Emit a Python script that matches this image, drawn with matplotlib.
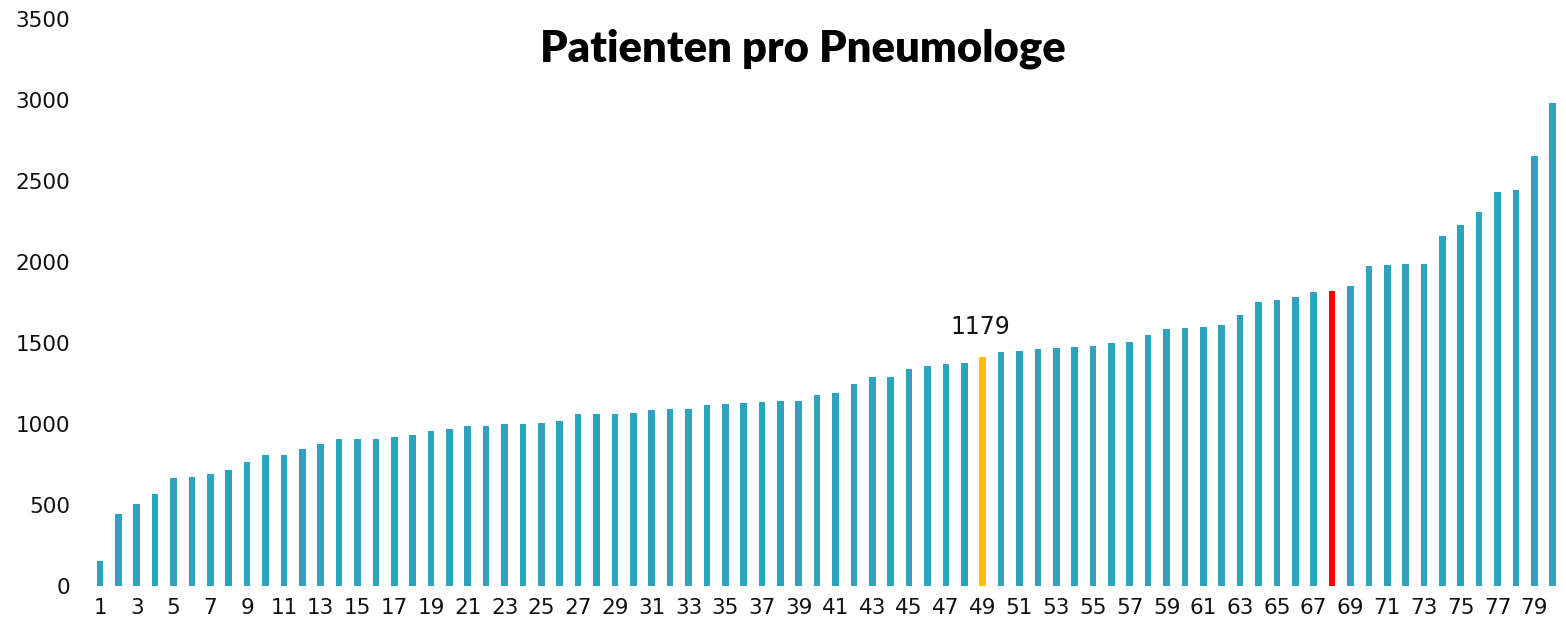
import matplotlib
matplotlib.use("Agg")
import matplotlib.pyplot as plt
import numpy as np

# ---- data ----
ranks = list(range(1, 81))
patients = [
    153, 442, 503, 563, 662, 672, 687, 714, 763, 808,
    808, 841, 876, 903, 903, 905, 916, 932, 956, 967,
    985, 985, 998, 998, 1006, 1018, 1060, 1062, 1062, 1066,
    1082, 1089, 1091, 1117, 1121, 1126, 1132, 1138, 1140, 1175,
    1189, 1243, 1288, 1291, 1338, 1354, 1367, 1373, 1412, 1442,
    1449, 1459, 1465, 1474, 1478, 1500, 1506, 1548, 1583, 1589,
    1599, 1609, 1671, 1750, 1766, 1782, 1815, 1819, 1852, 1974,
    1978, 1986, 1986, 2161, 2227, 2309, 2433, 2443, 2653, 2981,
]
highlight_median = 49
highlight_red = 68
median_label = "1179"
title = "Patienten pro Pneumologe"
yticks = [0, 500, 1000, 1500, 2000, 2500, 3000, 3500]
xtick_labels = [str(r) for r in ranks[::2]]

# ---- style ----
teal = "#2EA3C1"
yellow = "#FFC000"
red = "#FF0000"
colors = [yellow if r == highlight_median else red if r == highlight_red else teal
          for r in ranks]

plt.rcParams['font.family'] = ['DejaVu Sans']

fig = plt.figure(figsize=(15.66, 6.30), dpi=100)
ax = fig.add_axes([0.058, 0.0706, 0.9394, 0.8992])

ax.bar(ranks, patients, width=0.36, color=colors, edgecolor="none")

ax.set_xlim(0.5, 80.5)
ax.set_ylim(0, 3500)
ax.set_yticks(yticks)
ax.set_yticklabels([str(v) for v in yticks], fontsize=15.5, color="#111111")
ax.set_xticks(ranks[::2])
ax.set_xticklabels(xtick_labels, fontsize=15.5, color="#111111")
ax.tick_params(axis='both', length=0)
ax.tick_params(axis='y', pad=15)
ax.tick_params(axis='x', pad=9)
for s in ax.spines.values():
    s.set_visible(False)

ax.annotate(median_label, xy=(highlight_median, patients[highlight_median - 1]),
            xytext=(-2, 13), textcoords="offset points",
            ha="center", va="bottom", fontsize=17, color="#111111")

fig.text(0.513, 0.923, title, ha="center", va="center",
         fontsize=31.3, fontweight="heavy", color="black",
         family=['Lato', 'DejaVu Sans'])

fig.savefig("out.png", dpi=100)
